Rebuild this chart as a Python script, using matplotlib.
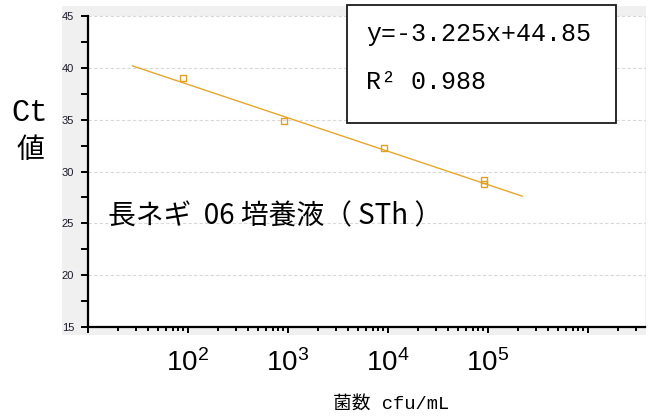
import numpy as np
import matplotlib
matplotlib.use("Agg")
import matplotlib.pyplot as plt
from matplotlib import font_manager
from matplotlib.patches import Rectangle
from matplotlib.ticker import FixedLocator, FixedFormatter, LogLocator, MultipleLocator, NullFormatter

# ---- data ----
concentrations = [89, 910, 9100, 91000, 91000]      # cfu/mL
ct_values = [39.0, 34.9, 32.3, 29.2, 28.8]
fit_slope = -3.225
fit_intercept = 44.85
fit_x_range = [28, 2.2e5]
x_tick_values = [1e1, 1e2, 1e3, 1e4, 1e5, 1e6]
x_tick_labels = ["", "$10^{2}$", "$10^{3}$", "$10^{4}$", "$10^{5}$", ""]
y_ticks = [15, 20, 25, 30, 35, 40, 45]
equation_text = "y=-3.225x+44.85"
r2_text = "R² 0.988"
sample_label = "長ネギ  06 培養液（ STh ）"
x_label = "菌数 cfu/mL"
y_label_top = "Ct"
y_label_bottom = "値"

names = {f.name for f in font_manager.fontManager.ttflist}
narrow = "Liberation Sans Narrow" if "Liberation Sans Narrow" in names else "Liberation Sans"
mono = "Liberation Mono" if "Liberation Mono" in names else "DejaVu Sans Mono"
cjk = "Noto Sans CJK JP"

plt.rcParams["mathtext.fontset"] = "custom"
plt.rcParams["mathtext.rm"] = narrow
plt.rcParams["mathtext.it"] = narrow
plt.rcParams["mathtext.bf"] = narrow

W, H = 653, 418
fig = plt.figure(figsize=(W / 100, H / 100), dpi=100)

def fx(px):
    return px / W

def fy(py):
    return 1 - py / H

# gray chart-area background
fig.patches.append(Rectangle((fx(62), fy(335)), fx(646) - fx(62), fy(6) - fy(335),
                             transform=fig.transFigure, facecolor="#f0f0f0",
                             edgecolor="none", zorder=-5))

ax = fig.add_axes([fx(88), fy(327), fx(645) - fx(88), fy(16) - fy(327)])
ax.set_zorder(1)
ax.set_facecolor("white")
ax.set_xscale("log")
ax.set_xlim(10, 10 ** 6.57)
ax.set_ylim(15, 45)

line_color = "#E6A62E"
ax.plot(fit_x_range, [fit_slope * np.log10(v) + fit_intercept for v in fit_x_range],
        color=line_color, lw=1.0, zorder=3)
ax.plot(concentrations, ct_values, linestyle="none", marker="s", markersize=4.6,
        markerfacecolor="none", markeredgecolor="#E0A020", markeredgewidth=1.0, zorder=4)

# grid
for yv in y_ticks[1:]:
    ax.axhline(yv, color="#d8d8d8", lw=0.8, ls=(0, (3, 2)), zorder=1, clip_on=False)

for s in ["top", "right"]:
    ax.spines[s].set_visible(False)
for s in ["left", "bottom"]:
    ax.spines[s].set_linewidth(1.6)
    ax.spines[s].set_color("black")

ax.yaxis.set_major_locator(FixedLocator(y_ticks))
ax.yaxis.set_minor_locator(MultipleLocator(2.5))
ax.tick_params(axis="y", which="both", direction="out", length=5, width=1.4, pad=5,
               labelsize=8, labelcolor="#1a1a2a")
for lab in ax.get_yticklabels():
    lab.set_family("Liberation Sans")

ax.xaxis.set_major_locator(FixedLocator(x_tick_values))
ax.xaxis.set_major_formatter(FixedFormatter(x_tick_labels))
ax.xaxis.set_minor_locator(LogLocator(base=10, subs=np.arange(2, 10), numticks=20))
ax.xaxis.set_minor_formatter(NullFormatter())
ax.tick_params(axis="x", which="major", direction="out", length=4, width=1.4, pad=12,
               labelsize=20)
ax.tick_params(axis="x", which="minor", direction="out", length=3, width=1.4)

# y label (two lines)
fig.text(fx(30), fy(113), y_label_top, family=[mono, cjk], fontsize=22,
         ha="center", va="center")
fig.text(fx(30), fy(150), y_label_bottom, family=[cjk], fontsize=20,
         ha="center", va="center")

# x label
fig.text(fx(391), fy(404), x_label, family=[mono, cjk], fontsize=13.5,
         ha="center", va="center")

# sample annotation
fig.text(fx(108), fy(216), sample_label, family=[cjk], fontsize=20,
         ha="left", va="center", zorder=6)

# equation box
fig.patches.append(Rectangle((fx(347), fy(123)), fx(616) - fx(347), fy(5) - fy(123),
                             transform=fig.transFigure, facecolor="white",
                             edgecolor="#1a1a1a", lw=1.3, zorder=5))
fig.text(fx(366), fy(34), equation_text, family=[mono], fontsize=18,
         ha="left", va="center", zorder=6)
fig.text(fx(366), fy(82), r2_text, family=[mono], fontsize=18,
         ha="left", va="center", zorder=6)

fig.savefig("out.png", dpi=100)
